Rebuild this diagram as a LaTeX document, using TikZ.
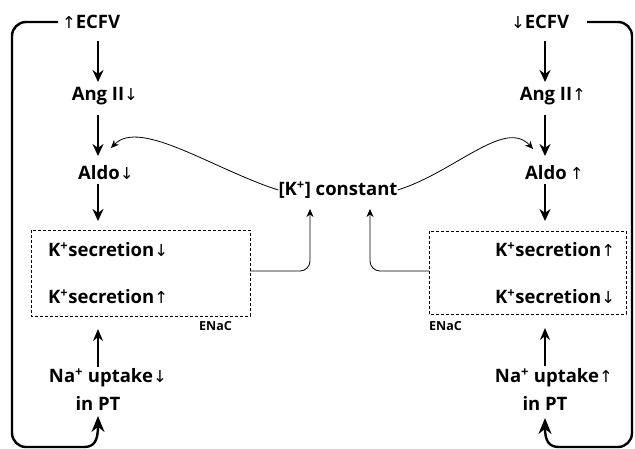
\documentclass[tikz,border=0pt]{standalone}
\usepackage{fontspec}
\setmainfont{Open Sans}
\newfontfamily\arrfont{DejaVu Sans}
\usetikzlibrary{arrows.meta}
\newcommand{\uarr}{{\arrfont\mdseries\fontsize{16.5}{16}\selectfont ↑}}
\newcommand{\darr}{{\arrfont\mdseries\fontsize{16.5}{16}\selectfont ↓}}
\begin{document}
\begin{tikzpicture}[x=1pt,y=-1pt,
 lbl/.style={font=\fontsize{18.5}{20}\selectfont\bfseries, inner sep=0pt},
 small/.style={font=\fontsize{12.5}{13}\selectfont\bfseries, inner sep=0pt},
 tharr/.style={line width=2pt, -{Stealth[length=12pt,width=11pt]}},
 medarr/.style={line width=1.4pt, -{Stealth[length=12pt,width=10pt]}},
 thinarr/.style={line width=0.8pt, -{Stealth[length=8pt,width=7pt]}},
 loopln/.style={line width=2.4pt, rounded corners=14pt},
 looparr/.style={line width=2.4pt, -{Stealth[length=16pt,width=13pt]}},
 dbox/.style={draw, line width=0.7pt, dash pattern=on 3pt off 2pt}]
\useasboundingbox (0,0) rectangle (635,449);

% left column
\node[lbl] (ecfvL) at (98,22) {\llap{\uarr}ECFV};
\node[lbl] (angL) at (98,96) {Ang II\rlap{\darr}};
\node[lbl] (aldoL) at (99,173) {Aldo\rlap{\darr}};
\node[lbl, anchor=west] (ksL1) at (48,250) {K\textsuperscript{+}secretion\rlap{\darr}};
\node[lbl, anchor=west] (ksL2) at (48,297) {K\textsuperscript{+}secretion\rlap{\uarr}};
\node[lbl] (naL) at (101,378) {Na\textsuperscript{+} uptake\rlap{\darr}};
\node[lbl] (ptL) at (98,403) {in PT};
\draw[dbox] (31,230) rectangle (250,316);
\coordinate (boxLr) at (250,271);
\coordinate (boxLb) at (98,316);
\coordinate (boxLt) at (98,230);
\node[small, anchor=west] (enacL) at (199,326) {ENaC};

% right column
\node[lbl] (ecfvR) at (547,22) {\llap{\darr}ECFV};
\node[lbl] (angR) at (546,96) {Ang II\rlap{\uarr}};
\node[lbl] (aldoR) at (546,173) {Aldo\rlap{\,\uarr}};
\node[lbl, anchor=west] (ksR1) at (495,250) {K\textsuperscript{+}secretion\rlap{\uarr}};
\node[lbl, anchor=west] (ksR2) at (495,297) {K\textsuperscript{+}secretion\rlap{\darr}};
\node[lbl] (naR) at (547,378) {Na\textsuperscript{+} uptake\rlap{\uarr}};
\node[lbl] (ptR) at (545,403) {in PT};
\draw[dbox] (429,231) rectangle (626,314);
\coordinate (boxRl) at (429,271);
\coordinate (boxRb) at (545,314);
\coordinate (boxRt) at (545,231);
\node[small, anchor=west] (enacR) at (429,326) {ENaC};

% centre
\node[lbl] (kc) at (338,190) {[K\textsuperscript{+}] constant};

% vertical arrows
\draw[tharr] (98,41) -- (98,82);
\draw[tharr] (98,115) -- (98,156);
\draw[tharr] (98,184) -- (boxLt |- 0,221);
\draw[medarr] (98,367) -- (98,329);
\draw[tharr] (545,41) -- (545,82);
\draw[tharr] (545,115) -- (545,156);
\draw[tharr] (545,184) -- (545,221);
\draw[medarr] (545,366) -- (545,328);

% feedback curves
\draw[thinarr] (kc.west) .. controls (215,170) and (140,118) .. (111,148);
\draw[thinarr] (kc.east) .. controls (455,172) and (505,118) .. (533,149);

% box to [K+]
\draw[thinarr, rounded corners=10pt] (boxLr) -- (310,271) -- (310,209);
\draw[thinarr, rounded corners=10pt] (boxRl) -- (370,271) -- (370,209);

% outer loops
\draw[loopln] (58,22) -- (12,22) -- (12,447) -- (84,447);
\draw[looparr] (84,447) .. controls (94,447) and (98,441) .. (98,416);
\draw[loopln] (587,22) -- (632,22) -- (632,447) -- (559,447);
\draw[looparr] (559,447) .. controls (549,447) and (545,441) .. (545,418);
\end{tikzpicture}
\end{document}
